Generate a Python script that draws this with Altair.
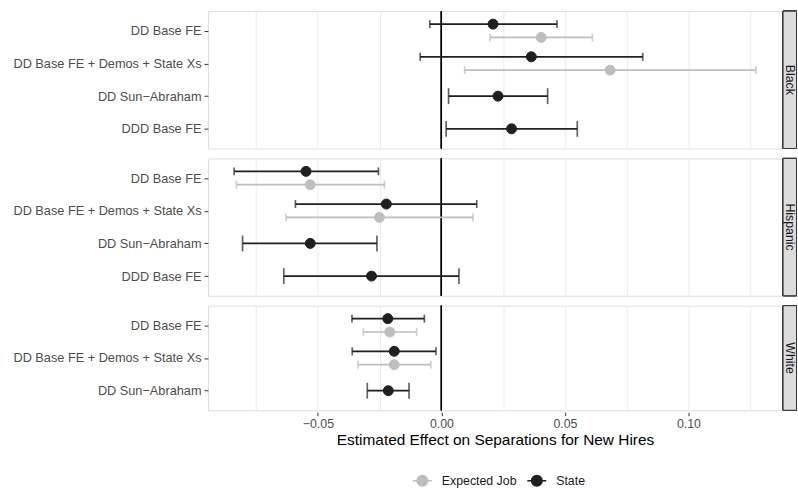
import altair as alt
import pandas as pd

races = ["Black", "Hispanic", "White"]
models = ["DD Base FE", "DD Base FE + Demos + State Xs", "DD Sun−Abraham", "DDD Base FE"]
series_names = ["Expected Job", "State"]

# State-level estimates (per race, model order as in `models`)
black_state_est = [0.0209, 0.0364, 0.0229, 0.0284]
black_state_lo = [-0.0047, -0.0086, 0.0029, 0.0019]
black_state_hi = [0.0468, 0.0815, 0.0430, 0.0550]
hisp_state_est = [-0.0548, -0.0223, -0.0531, -0.0283]
hisp_state_lo = [-0.0839, -0.0591, -0.0805, -0.0638]
hisp_state_hi = [-0.0255, 0.0143, -0.0261, 0.0071]
white_state_est = [-0.0217, -0.0191, -0.0215]
white_state_lo = [-0.0362, -0.0361, -0.0300]
white_state_hi = [-0.0069, -0.0022, -0.0131]

# Expected-job estimates (first two models only)
black_exp_est = [0.0404, 0.0683]
black_exp_lo = [0.0197, 0.0094]
black_exp_hi = [0.0611, 0.1273]
hisp_exp_est = [-0.0531, -0.0251]
hisp_exp_lo = [-0.0830, -0.0629]
hisp_exp_hi = [-0.0231, 0.0128]
white_exp_est = [-0.0209, -0.0191]
white_exp_lo = [-0.0316, -0.0338]
white_exp_hi = [-0.0100, -0.0043]

x_ticks = [-0.075, -0.05, -0.025, 0.0, 0.025, 0.05, 0.075, 0.1, 0.125]
x_major = [-0.05, 0.0, 0.05, 0.1]
x_domain = [-0.0945, 0.1379]

rows = []
def add(race, series, est, lo, hi):
    for m, e, l, h in zip(models, est, lo, hi):
        rows.append(dict(race=race, model=m, series=series, est=e, lo=l, hi=h))

add("Black", "State", black_state_est, black_state_lo, black_state_hi)
add("Black", "Expected Job", black_exp_est, black_exp_lo, black_exp_hi)
add("Hispanic", "State", hisp_state_est, hisp_state_lo, hisp_state_hi)
add("Hispanic", "Expected Job", hisp_exp_est, hisp_exp_lo, hisp_exp_hi)
add("White", "State", white_state_est, white_state_lo, white_state_hi)
add("White", "Expected Job", white_exp_est, white_exp_lo, white_exp_hi)

df = pd.DataFrame(rows)
df["n"] = df.groupby(["race", "model"])["series"].transform("count")
df["off"] = 0
df.loc[(df.n == 2) & (df.series == "State"), "off"] = -1
df.loc[(df.n == 2) & (df.series == "Expected Job"), "off"] = 1

# strip label anchor: the middle category of each panel (half a step lower when count is even)
df["is_label"] = False
df["toff"] = 0.0
for race in races:
    present = [m for m in models if m in set(df.loc[df.race == race, "model"])]
    mid = (len(present) - 1) / 2
    anchor = present[int(mid)]
    idx = df.index[(df.race == race) & (df.model == anchor) & (df.series == "State")][0]
    df.loc[idx, "is_label"] = True
    df.loc[idx, "toff"] = mid - int(mid)

BLACK = "#1f1f1f"
GREY = "#bebebe"
col_scale = alt.Scale(domain=series_names, range=[GREY, BLACK])
FS = 12.4
STEP = 32.85

major_test = "indexof([-0.05, 0, 0.05, 0.1], datum.value) >= 0"

xenc = alt.X(
    "est:Q",
    scale=alt.Scale(domain=x_domain, nice=False, zero=False),
    axis=alt.Axis(
        title="Estimated Effect on Separations for New Hires",
        values=x_ticks,
        labelExpr=f"{major_test} ? format(datum.value, '.2f') : ''",
        tickOpacity={"condition": {"test": major_test, "value": 1}, "value": 0},
        grid=True,
        gridColor="#ebebeb",
        gridWidth=1,
        domain=False,
        tickColor="#333333",
        tickSize=3.5,
        labelColor="#4d4d4d",
        labelFontSize=FS,
        labelPadding=2,
        titleFontSize=15.5,
        titleFontWeight="normal",
        titleColor="#000000",
        titlePadding=3,
    ),
)
yenc = alt.Y(
    "model:N",
    sort=models,
    scale=alt.Scale(type="point", padding=0.6),
    axis=alt.Axis(
        title=None,
        grid=False,
        domain=False,
        tickColor="#333333",
        tickSize=4,
        labelColor="#4d4d4d",
        labelFontSize=12.8,
        labelPadding=3,
        labelLimit=400,
    ),
)
yoff = alt.YOffset("off:Q", scale=alt.Scale(domain=[-1, 1], range=[-6.7, 6.7]))

base = alt.Chart()

strip = base.mark_rect(fill="#dcdcdc", stroke="#333333", strokeWidth=1, xOffset=1, x2Offset=14.5).encode(
    x=alt.value("width"), x2=alt.value("width"), y=alt.value(0), y2=alt.value("height")
)

strip_text = base.mark_text(angle=90, fontSize=FS, color="#1a1a1a", align="center",
                            baseline="middle", xOffset=8).encode(
    x=alt.value("width"),
    y=yenc,
    yOffset=alt.YOffset("toff:Q", scale=alt.Scale(domain=[0, 1], range=[0, STEP])),
    text="race:N",
).transform_filter("datum.is_label")

zero = base.mark_rule(color="#000000", strokeWidth=1.2).encode(x=alt.datum(0))

whisk = base.mark_rule(strokeWidth=1.7).encode(
    x="lo:Q", x2="hi:Q", y=yenc, yOffset=yoff,
    stroke=alt.Stroke("series:N", scale=col_scale, title=None),
)

cap_size = alt.condition("datum.n == 2", alt.value(8), alt.value(16))
cap_lo = base.mark_tick(orient="vertical", thickness=1.7).encode(
    x="lo:Q", y=yenc, yOffset=yoff, size=cap_size,
    fill=alt.Fill("series:N", scale=col_scale, title=None),
)
cap_hi = base.mark_tick(orient="vertical", thickness=1.7).encode(
    x="hi:Q", y=yenc, yOffset=yoff, size=cap_size,
    fill=alt.Fill("series:N", scale=col_scale, title=None),
)

pts = base.mark_point(filled=True, opacity=1, size=100, strokeWidth=1).encode(
    x=xenc, y=yenc, yOffset=yoff,
    fill=alt.Fill("series:N", scale=col_scale, title=None),
    stroke=alt.Stroke("series:N", scale=col_scale, title=None,
                      legend=alt.Legend(
                          orient="none", direction="horizontal",
                          legendX=205, legendY=461,
                          symbolType="M-1,0L1,0M0.55,0A0.55,0.55,0,1,1,-0.55,0A0.55,0.55,0,1,1,0.55,0Z",
                          symbolSize=361, symbolStrokeWidth=1.7,
                          labelFontSize=FS, labelColor="#1a1a1a",
                          labelOffset=9, columnPadding=6,
                      )),
)

layer = alt.layer(zero, whisk, cap_lo, cap_hi, pts, strip, strip_text, data=df).resolve_scale(
    yOffset="independent"
).properties(width=577, height=alt.Step(STEP))

chart = layer.facet(
    row=alt.Row("race:N", sort=races, header=alt.Header(title=None, labels=False)),
    spacing=6,
).resolve_scale(y="independent").properties(
    padding={"left": 12, "top": 8, "right": 0, "bottom": 0}
).configure_view(
    stroke="#333333", strokeWidth=1
).configure(
    font="Liberation Sans"
)

chart.save("out.html", embed_options={"renderer": "svg", "actions": False})
